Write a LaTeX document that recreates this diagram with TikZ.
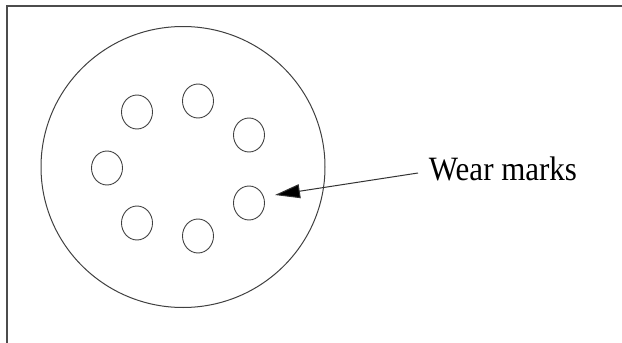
\documentclass[tikz,border=0pt]{standalone}
\usepackage{fontspec}
\setmainfont{Liberation Serif}
\usetikzlibrary{arrows.meta,shapes.geometric}
\tikzset{wearmark/.style={draw=black!75, line width=0.9pt, ellipse,
  inner sep=0pt, minimum width=31pt, minimum height=34pt}}
\tikzset{pointer/.style={draw=black!80, line width=1pt,
  -{Triangle[length=25pt,width=14pt,fill=black]}}}

\begin{document}
\begin{tikzpicture}[x=1pt,y=-1pt]
  \useasboundingbox (0,0) rectangle (622,343);
  % frame, only top and left show
  \draw[black!70, line width=1.5pt] (7,343) -- (7,6) -- (622,6);
  \node[draw=black!75, line width=1pt, ellipse, inner sep=0pt,
    minimum width=284pt, minimum height=281pt] (disc) at (183,167) {};
  \foreach \i/\x/\y in {1/137/112, 2/198/101, 3/249/135, 4/107/168,
                        5/249/203, 6/137/223, 7/198/236}
    \node[wearmark] (m\i) at (\x,\y) {};
  \node[font=\fontsize{31}{31}\selectfont, anchor=base, yscale=1.1]
    (label) at (503,180) {Wear marks};
  \coordinate (tail) at (418,173);
  \coordinate (tip) at (275,195);
  \draw[pointer] (tail) -- (tip);
\end{tikzpicture}
\end{document}
